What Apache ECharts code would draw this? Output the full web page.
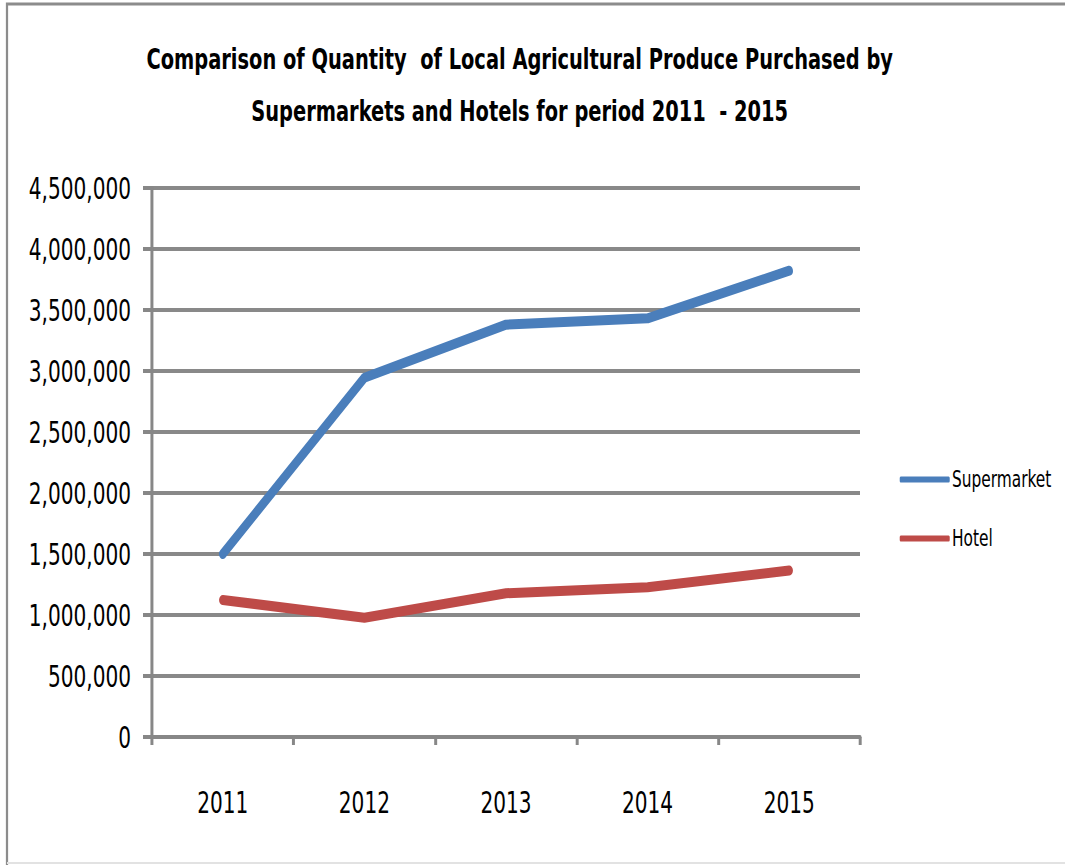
<!DOCTYPE html>
<html><head><meta charset="utf-8">
<script src="https://cdn.jsdelivr.net/npm/echarts@6/dist/echarts.min.js"></script>
<style>
html,body{margin:0;padding:0;background:#fff;overflow:hidden}
#wrap{width:1065px;height:865px;overflow:hidden}
#c{width:1430px;height:865px;transform:scaleX(0.744755);transform-origin:0 0}
</style>
</head><body><div id="wrap"><div id="c"></div></div>
<script>
const years = ['2011','2012','2013','2014','2015'];
const supermarket = [1500000, 2945000, 3380000, 3432000, 3822000];
const hotel = [1123000, 978000, 1178000, 1227000, 1365000];
const yTicks = [0, 500000, 1000000, 1500000, 2000000, 2500000, 3000000, 3500000, 4000000, 4500000];

const S = 1065 / 1430; // horizontal compression applied by CSS
const X = v => v / S;
const FONT = '"DejaVu Sans Condensed", "DejaVu Sans", sans-serif';
const chart = echarts.init(document.getElementById('c'), null, { renderer: 'svg' });
chart.setOption({
  backgroundColor: '#fff',
  animation: false,
  title: {
    text: 'Comparison of Quantity  of Local Agricultural Produce Purchased by\nSupermarkets and Hotels for period 2011  - 2015',
    left: X(516), top: 28, textAlign: 'center',
    textStyle: { fontFamily: FONT, fontWeight: 'bold', fontSize: 29, lineHeight: 52, color: '#000' }
  },
  legend: {
    orient: 'vertical', left: X(896), top: 463, itemGap: 36,
    itemWidth: X(50), itemHeight: 6, icon: 'roundRect',
    textStyle: { fontFamily: FONT, fontSize: 23, color: '#000', padding: [0,0,0,-2] },
    data: ['Supermarket', 'Hotel']
  },
  grid: { left: X(152), top: 188, width: X(708), height: 549, containLabel: false },
  xAxis: {
    type: 'category', data: years, boundaryGap: true,
    axisLine: { lineStyle: { color: '#878787', width: 4 } },
    axisTick: { show: true, length: 8, lineStyle: { color: '#878787', width: 4 } },
    axisLabel: { fontFamily: FONT, fontSize: 30, color: '#000', margin: 50 }
  },
  yAxis: {
    type: 'value', min: yTicks[0], max: yTicks[yTicks.length-1], interval: 500000,
    axisLine: { show: true, lineStyle: { color: '#878787', width: 4 } },
    axisTick: { show: true, length: X(9), lineStyle: { color: '#878787', width: 4 } },
    splitLine: { lineStyle: { color: '#898989', width: 4 } },
    axisLabel: {
      fontFamily: FONT, fontSize: 30, color: '#000', margin: X(21),
      formatter: v => v.toLocaleString('en-US')
    }
  },
  series: [
    { name: 'Supermarket', type: 'line', data: supermarket, showSymbol: false, symbol: 'none',
      lineStyle: { color: '#4a7ebb', width: 10, cap: 'round', join: 'round' }, itemStyle: { color: '#4a7ebb' } },
    { name: 'Hotel', type: 'line', data: hotel, showSymbol: false, symbol: 'none',
      lineStyle: { color: '#be4b48', width: 10, cap: 'round', join: 'round' }, itemStyle: { color: '#be4b48' } }
  ],
  graphic: [
    { type: 'polyline', shape: { points: [[X(7),865],[X(7),4],[1430,4]] }, style: { stroke: '#8c8c8c', lineWidth: 3, fill: null }, silent: true },
    { type: 'line', shape: { x1: X(7), y1: 863, x2: 1430, y2: 863 }, style: { stroke: '#e2e2e2', lineWidth: 2 }, silent: true }
  ]
});
</script></body></html>
